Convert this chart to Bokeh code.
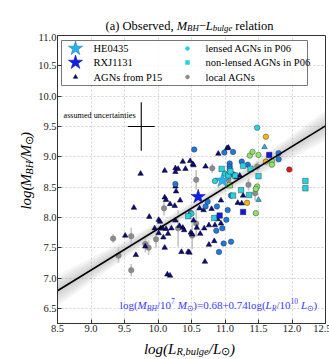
import math
from bokeh.plotting import figure
from bokeh.layouts import column, row
from bokeh.models import Range1d, FixedTicker, LabelSet, ColumnDataSource, NumeralTickFormatter
from bokeh.core.properties import value
from bokeh.embed import file_html
from bokeh.resources import INLINE

# ---------------- data ----------------
x_ticks = [8.5, 9.0, 9.5, 10.0, 10.5, 11.0, 11.5, 12.0, 12.5]
x_tick_labels = ["8.5", "9.0", "9.5", "10.0", "10.5", "11.0", "11.5", "12.0", "12.5"]
y_ticks = [6.5, 7.0, 7.5, 8.0, 8.5, 9.0, 9.5, 10.0, 10.5, 11.0]
y_tick_labels = ["6.5", "7.0", "7.5", "8.0", "8.5", "9.0", "9.5", "10.0", "10.5", "11.0"]

# AGNs from P15 (navy triangles)
p15_x = [9.74, 10.10, 10.26, 10.26, 10.37, 10.48, 10.53, 10.71, 10.90, 11.03, 10.26, 10.10, 10.12, 10.18,
         9.64, 9.87, 10.01, 10.03, 9.95, 10.04, 10.01, 10.08, 10.10, 9.81, 9.67, 9.51, 10.14, 10.18, 10.35,
         10.45, 10.47, 10.70, 10.84, 10.76, 10.37, 10.49, 10.51, 10.69, 10.53, 11.19, 11.27, 11.17, 11.22,
         10.27, 10.25, 10.33, 10.07, 10.12, 10.15, 10.26, 10.20, 10.32, 10.39, 10.58, 10.63, 10.76, 10.85,
         10.89, 10.94, 10.62, 10.68, 10.80, 10.41, 10.30, 10.52, 11.05, 11.25, 10.94]
p15_y = [8.72, 8.77, 8.81, 8.75, 8.92, 8.93, 8.86, 8.84, 9.05, 9.14, 8.51, 8.33, 8.29, 8.22,
         8.16, 8.01, 7.96, 7.93, 7.82, 7.82, 7.74, 7.67, 7.50, 7.52, 7.38, 7.70, 7.06, 7.04, 7.43,
         7.43, 7.42, 7.27, 7.61, 7.55, 7.83, 7.75, 7.72, 7.82, 7.95, 8.24, 8.36, 8.66, 8.69,
         8.43, 8.19, 8.28, 7.82, 7.81, 7.73, 7.95, 7.82, 7.86, 7.79, 7.83, 7.73, 7.87, 7.87,
         7.97, 7.90, 8.15, 8.12, 8.14, 8.80, 8.80, 8.88, 9.15, 8.23, 8.28]
# two light-coloured triangles
p15b_x = [11.59, 11.50]
p15b_y = [9.16, 8.29]

# lensed AGNs in P06 (circles, colour-coded)
p06l_x = [11.48, 11.61, 10.54, 11.12, 10.99, 11.37, 11.41, 11.50, 11.80, 11.80, 11.61, 11.70, 11.70, 11.96,
          11.07, 11.07, 11.07, 11.34, 10.85, 10.26, 10.71, 11.02, 10.49, 11.09, 11.04, 11.33, 11.46, 11.48,
          11.46, 10.91, 10.98, 11.09, 10.87, 10.74, 10.88, 10.50, 10.96, 11.00, 11.12, 11.25]
p06l_y = [9.48, 9.33, 9.12, 9.08, 9.07, 9.02, 9.08, 9.03, 9.06, 8.96, 8.92, 8.93, 8.87, 8.79,
          8.89, 8.84, 8.80, 8.87, 8.60, 8.55, 8.18, 7.96, 8.07, 8.36, 8.12, 8.24, 8.07, 8.51,
          8.47, 7.43, 7.57, 7.60, 7.78, 8.26, 8.18, 8.06, 7.82, 8.72, 8.71, 8.92]
p06l_c = ["cyan", "orange", "blue", "blue", "blue", "green", "green", "green", "blue", "blue", "orange", "green", "green", "red",
          "blue", "blue", "blue", "blue", "cyan", "blue", "blue", "blue", "blue", "blue", "blue", "orange", "green", "green",
          "green", "blue", "blue", "blue", "blue", "blue", "blue", "cyan", "blue", "cyan", "blue", "blue"]

# non-lensed AGNs in P06 (squares)
p06n_x = [11.66, 11.27, 11.38, 10.95, 11.05, 11.15, 10.45, 10.84, 10.92, 11.24, 11.36, 11.27, 12.20, 12.20,
          11.07, 11.12, 11.50, 11.08]
p06n_y = [9.03, 8.85, 8.80, 8.80, 8.69, 8.69, 8.02, 7.99, 8.03, 8.45, 8.37, 8.09, 8.60, 8.48,
          8.53, 8.36, 8.68, 8.76]
p06n_c = ["dblue", "cyan", "cyan", "cyan", "cyan", "cyan", "cyan", "cyan", "dblue", "cyan", "cyan", "dblue", "cyan", "cyan",
          "green", "cyan", "cyan", "cyan"]

# local AGNs (grey, with errors on log M_BH)
loc_x = [10.57, 10.81, 11.48, 10.09, 9.86, 9.41, 9.33, 9.60, 9.60, 9.97, 9.81, 10.51, 10.30, 10.57, 11.45, 11.35, 11.05]
loc_y = [8.62, 8.81, 8.84, 8.15, 7.50, 7.37, 7.65, 7.69, 7.13, 7.64, 7.56, 7.70, 7.82, 7.90, 8.40, 8.54, 8.62]
loc_err = [0.16, 0.08, 0.08, 0.12, 0.12, 0.12, 0.07, 0.14, 0.10, 0.14, 0.14, 0.22, 0.30, 0.22, 0.12, 0.10, 0.10]

# the two lensed systems of this work
he0435_x, he0435_y = [10.96], [8.61]
rxj1131_x, rxj1131_y = [10.60], [8.34]

# fitted relation as drawn, and scatter band half-widths
fit_x0, fit_y0, fit_slope = 10.0, 7.81, 0.68
band_x = [8.5, 9.0, 9.5, 10.0, 10.5, 11.0, 11.5, 12.0, 12.5]
band_hw = [0.26, 0.20, 0.15, 0.11, 0.09, 0.10, 0.14, 0.19, 0.25]

# assumed uncertainties cross
unc_x, unc_y, unc_dx, unc_dy = 9.75, 9.5, 0.2, 0.4

PAL = {"cyan": "#26d4df", "blue": "#1f78dc", "green": "#8de36b", "orange": "#f3b612",
       "red": "#e3161d", "dblue": "#1414e0"}

# ---------------- page geometry ----------------
PAGE_W, PAGE_H = 329, 359
X0, X1, Y0, Y1 = 8.5, 12.5, 6.25, 11.0
FL, FT, FW, FH = 55, 35, 268, 288      # frame left/top on page, frame size
TITLE_H = 33                            # strip above the plot
YLAB_W = 35                             # strip left of the plot
B_TOP, B_BOT, B_RIGHT = FT - TITLE_H, 12, PAGE_W - FL - FW
MAIN_H = B_TOP + FH + B_BOT
XLAB_H = PAGE_H - TITLE_H - MAIN_H

p = figure(frame_width=FW, frame_height=FH, x_range=Range1d(X0, X1), y_range=Range1d(Y0, Y1),
           output_backend="svg", toolbar_location=None,
           min_border_left=FL - YLAB_W, min_border_right=B_RIGHT, min_border_top=B_TOP, min_border_bottom=B_BOT)
p.outline_line_color = "#333333"
p.background_fill_color = "white"
p.border_fill_color = "white"

for ax, ticks, labs in ((p.xaxis, x_ticks, x_tick_labels), (p.yaxis, y_ticks, y_tick_labels)):
    ax.ticker = FixedTicker(ticks=ticks)
    ax.formatter = NumeralTickFormatter(format="0.0")
    ax.major_label_overrides = {t: l for t, l in zip(ticks, labs)}
    ax.major_label_text_font = "Liberation Serif"
    ax.major_label_text_font_size = "10.5px"
    ax.major_label_text_color = "#222222"
    ax.axis_line_color = "#333333"
    ax.major_tick_in = 4
    ax.major_tick_out = 0
    ax.minor_tick_line_color = None
    ax.major_tick_line_color = "#333333"
    ax.major_label_standoff = 1
p.grid.grid_line_color = "#c8c8c8"
p.grid.grid_line_dash = "2 2"
p.grid.grid_line_width = 0.8


def px2x(px):
    return X0 + (px - FL) * (X1 - X0) / FW


def py2y(py):
    return Y1 - (py - FT) * (Y1 - Y0) / FH


# band (layers of translucent grey)
line_y = [fit_y0 + fit_slope * (x - fit_x0) for x in band_x]
for frac in (1.0, 0.8, 0.6, 0.4, 0.22):
    p.varea(x=band_x, y1=[ly - frac * h for ly, h in zip(line_y, band_hw)],
            y2=[ly + frac * h for ly, h in zip(line_y, band_hw)],
            fill_color="#8a8a8a", fill_alpha=0.085)

# local AGNs errorbars + points
p.segment(x0=loc_x, y0=[y - e for y, e in zip(loc_y, loc_err)], x1=loc_x,
          y1=[y + e for y, e in zip(loc_y, loc_err)], line_color="#c4c4c4", line_width=1.6)
p.scatter(loc_x, loc_y, marker="circle", size=5.5, fill_color="#8c8c8c", line_color="#6e6e6e", line_width=0.4)

# P15 triangles
p.scatter(p15_x, p15_y, marker="triangle", size=5.5, fill_color="#0c0c8a", line_color="black", line_width=0.5)
p.scatter(p15b_x, p15b_y, marker="triangle", size=5.5, fill_color="#21b3ea", line_color="#333333", line_width=0.5)

# P06
p.scatter(p06l_x, p06l_y, marker="circle", size=5.5, fill_color=[PAL[c] for c in p06l_c],
          line_color="#222222", line_width=0.4)
p.scatter(p06n_x, p06n_y, marker="square", size=5.5, fill_color=[PAL[c] for c in p06n_c],
          line_color="#222222", line_width=0.4)

# fit line
p.line([X0, X1], [fit_y0 + fit_slope * (X0 - fit_x0), fit_y0 + fit_slope * (X1 - fit_x0)],
       line_color="black", line_width=1.6)

# stars
p.scatter(he0435_x, he0435_y, marker="star", size=15, fill_color="#22b4ee", line_color="#1a6fa8", line_width=0.5)
p.scatter(rxj1131_x, rxj1131_y, marker="star", size=15, fill_color="#1020e6", line_color="#0a0a80", line_width=0.5)

# assumed uncertainties cross
p.segment(x0=[unc_x - unc_dx, unc_x], y0=[unc_y, unc_y - unc_dy], x1=[unc_x + unc_dx, unc_x],
          y1=[unc_y, unc_y + unc_dy], line_color="black", line_width=1.1)

# ---------------- legend box + markers (drawn by hand) ----------------
p.quad(left=[px2x(59)], right=[px2x(305)], bottom=[py2y(85)], top=[py2y(40)],
       fill_color="white", fill_alpha=0.85, line_color="#777777", line_width=1)
rows = [48, 62, 76.5]
leg_marker = [("star", 15, "#22b4ee", "#1a6fa8"), ("star", 15, "#1020e6", "#0a0a80"),
              ("triangle", 4.5, "#0c0c8a", "black"), ("circle", 4, "#26d4df", "#26d4df"),
              ("square", 4, "#26d4df", "#26d4df"), ("circle", 4, "#8c8c8c", "#8c8c8c")]
leg_text = ["HE0435", "RXJ1131", "AGNs from P15", "lensed AGNs in P06", "non-lensed AGNs in P06", "local AGNs"]

# ---------------- rich text ----------------
ROMAN = {" ": .25, "(": .333, ")": .333, ".": .25, ",": .25, "/": .278, "=": .564, "+": .564, "\u2212": .564,
         "a": .444, "b": .5, "c": .444, "d": .5, "e": .444, "g": .5, "i": .278, "l": .278, "m": .778, "n": .5,
         "o": .5, "r": .333, "s": .389, "t": .278, "u": .5, "v": .5, "A": .722, "B": .667, "E": .611,
         "G": .722, "H": .722, "J": .389, "L": .611, "M": .889, "N": .722, "O": .722, "P": .556, "R": .667,
         "X": .722, "\u2299": .84}
for d in "0123456789":
    ROMAN[d] = .5
ITAL = dict(ROMAN)
ITAL.update({"M": .833, "B": .611, "L": .556, "R": .611})
SUB, SUP = -0.22, 0.38


def new_store():
    return dict(x=[], y=[], text=[], size=[], style=[], color=[], angle=[])


def seg_w(t, it, size):
    tab = ITAL if it else ROMAN
    return sum(tab.get(c, .55) for c in t) * size


def rich(store, segs, base, ax, ay, color="black", angle=0.0, center=False):
    """ax, ay: anchor in local pixels (y up). Leading spaces become an advance (SVG drops them)."""
    total = sum(seg_w(t, it, base * sf) for t, it, sf, sh in segs)
    adv = -total / 2 if center else 0.0
    for t, it, sf, sh in segs:
        size = base * sf
        dy = sh * base
        body = t.lstrip(" ")
        adv += seg_w(t[:len(t) - len(body)], it, size)
        if angle == 0.0:
            x, y = ax + adv, ay + dy
        else:
            x, y = ax - dy, ay + adv
        store["x"].append(x)
        store["y"].append(y)
        store["text"].append(body)
        store["size"].append(f"{size:.1f}px")
        store["style"].append("italic" if it else "normal")
        store["color"].append(color)
        store["angle"].append(angle)
        adv += seg_w(body, it, size)


def text_fig(w, h, store):
    f = figure(width=w, height=h, x_range=Range1d(0, w), y_range=Range1d(0, h), output_backend="svg",
               toolbar_location=None, x_axis_type=None, y_axis_type=None, min_border=0)
    f.outline_line_color = None
    f.grid.visible = False
    f.text(x="x", y="y", text="text", angle="angle", source=ColumnDataSource(store),
           text_font=value("Liberation Serif"), text_font_size="size", text_font_style="style",
           text_color="color", text_baseline="alphabetic", text_align="left")
    return f


# title strip (page y 0..TITLE_H)
st_title = new_store()
rich(st_title, [("(a) Observed, ", False, 1, 0), ("M", True, 1, 0), ("BH", True, .7, SUB), ("\u2212", False, 1, 0),
                ("L", True, 1, 0), ("bulge", True, .7, SUB), (" relation", False, 1, 0)],
     12.5, 189, TITLE_H - 25, center=True)

# y-label strip (page x 0..YLAB_W, page y TITLE_H..TITLE_H+MAIN_H)
st_ylab = new_store()
rich(st_ylab, [("log(", True, 1, 0), ("M", True, 1, 0), ("BH", True, .7, SUB), ("/", True, 1, 0),
               ("M", True, 1, 0), ("\u2299", False, .7, SUB), (")", True, 1, 0)],
     15.0, 25.5, MAIN_H - (175 - TITLE_H), angle=math.pi / 2, center=True)

# x-label strip (page y PAGE_H-XLAB_H..PAGE_H)
st_xlab = new_store()
rich(st_xlab, [("log(", True, 1, 0), ("L", True, 1, 0), ("R,bulge", True, .7, SUB), ("/", True, 1, 0),
               ("L", True, 1, 0), ("\u2299", False, .7, SUB), (")", True, 1, 0)],
     15.0, 189, PAGE_H - 348, center=True)

# texts inside the plot frame (anchored at frame top-left, pixel offsets)
st_in = new_store()
rich(st_in, [("log(", False, 1, 0), ("M", True, 1, 0), ("BH", True, .7, SUB), ("/10", False, 1, 0),
             ("7", False, .7, SUP), (" M", True, 1, 0), ("\u2299", False, .7, SUB),
             (")=0.68+0.74log(", False, 1, 0), ("L", True, 1, 0), ("R", True, .7, SUB), ("/10", False, 1, 0),
             ("10", False, .7, SUP), (" L", True, 1, 0), ("\u2299", False, .7, SUB), (")", False, 1, 0)],
     11.0, 216 - FL, -(308 - FT), color="#3b3bf5", center=True)
rich(st_in, [("assumed uncertainties", False, 1, 0)], 8.2, 61 - FL, -(117 - FT))
for i, ((mk, sz, fc, lc), txt) in enumerate(zip(leg_marker, leg_text)):
    col, r = divmod(i, 3)
    mx = 73 if col == 0 else 185
    tx = 91 if col == 0 else 203
    p.scatter([px2x(mx)], [py2y(rows[r])], marker=mk, size=sz, fill_color=fc, line_color=lc, line_width=0.5)
    rich(st_in, [(txt, False, 1, 0)], 10.5, tx - FL, -(rows[r] + 3.8 - FT))

n = len(st_in["text"])
st_in["xo"], st_in["yo"] = st_in.pop("x"), st_in.pop("y")
st_in["x"], st_in["y"] = [X0] * n, [Y1] * n
p.add_layout(LabelSet(x="x", y="y", text="text", x_offset="xo", y_offset="yo", angle="angle",
                      source=ColumnDataSource(st_in), text_font=value("Liberation Serif"),
                      text_font_size="size", text_font_style="style", text_color="color",
                      text_baseline="alphabetic", text_align="left"))

f_title = text_fig(PAGE_W, TITLE_H, st_title)
f_ylab = text_fig(YLAB_W, MAIN_H, st_ylab)
f_xlab = text_fig(PAGE_W, XLAB_H, st_xlab)

page = column(f_title, row(f_ylab, p, spacing=0), f_xlab, spacing=0)
open("out.html", "w").write(file_html(page, INLINE))
